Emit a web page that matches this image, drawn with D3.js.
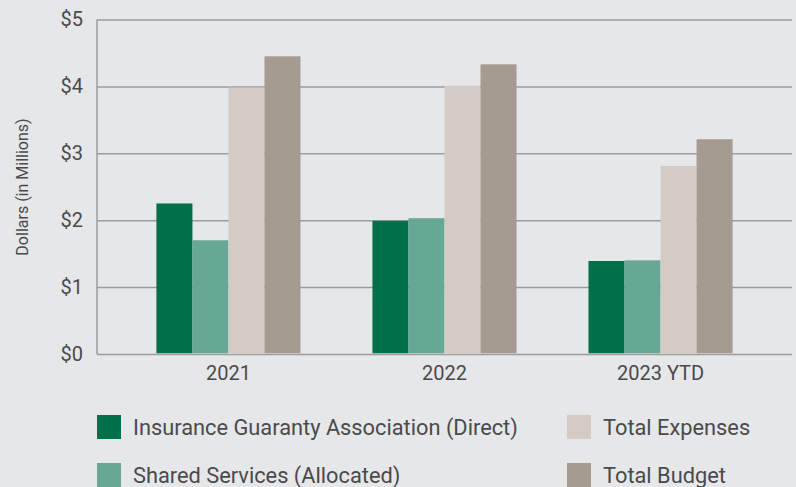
<!DOCTYPE html>
<html>
<head>
<meta charset="utf-8">
<script src="https://cdn.jsdelivr.net/npm/d3@7"></script>
<style>
  html, body { margin: 0; padding: 0; background: #e6e7e9; }
  #chart { width: 796px; height: 487px; }
  text { font-family: Roboto, "Noto Sans", sans-serif; fill: #4a4a4c; }
</style>
</head>
<body>
<div id="chart"></div>
<script>
const categories = ['2021', '2022', '2023 YTD'];
const seriesNames = ['Insurance Guaranty Association (Direct)', 'Shared Services (Allocated)', 'Total Expenses', 'Total Budget'];
const seriesColors = ['#00704a', '#66a893', '#d3cbc4', '#a69b90'];
const guarantyDirect = [2.25, 1.99, 1.39];
const sharedServices = [1.70, 2.03, 1.40];
const totalExpenses = [3.98, 4.01, 2.81];
const totalBudget = [4.45, 4.33, 3.21];
const yTicks = [0, 1, 2, 3, 4, 5];

const seriesValues = [guarantyDirect, sharedServices, totalExpenses, totalBudget];
const rows = categories.map((c, i) => ({
  category: c,
  values: seriesNames.map((s, j) => ({ series: s, value: seriesValues[j][i], color: seriesColors[j] }))
}));

const width = 796, height = 487;
const plot = { left: 97, right: 792, top: 19.5, bottom: 354 };

const svg = d3.select('#chart').append('svg').attr('width', width).attr('height', height);

const x0 = d3.scaleBand().domain(categories).range([plot.left, plot.right])
  .paddingInner(0.333).paddingOuter(0.275);
const x1 = d3.scaleBand().domain(seriesNames).range([0, x0.bandwidth()]);
const y = d3.scaleLinear().domain([0, 5]).range([plot.bottom, plot.top]);

// gridlines + tick labels
const yAxis = svg.append('g').attr('transform', `translate(${plot.left},0)`)
  .call(d3.axisLeft(y).tickValues(yTicks).tickFormat(d => '$' + d)
    .tickSize(-(plot.right - plot.left)).tickPadding(14));
yAxis.select('.domain').remove();
yAxis.selectAll('line').attr('stroke', '#9c9c9e').attr('stroke-width', 1.5);
yAxis.selectAll('text').style('font-size', '20px').attr('fill', '#4a4a4c');

svg.append('line').attr('x1', plot.left).attr('x2', plot.left)
  .attr('y1', plot.top).attr('y2', plot.bottom)
  .attr('stroke', '#9c9c9e').attr('stroke-width', 1.5);

// bars
const groups = svg.selectAll('g.grp').data(rows).enter().append('g')
  .attr('class', 'grp').attr('transform', d => `translate(${x0(d.category)},0)`);
groups.selectAll('rect').data(d => d.values).enter().append('rect')
  .attr('x', d => x1(d.series)).attr('width', x1.bandwidth())
  .attr('y', d => y(d.value)).attr('height', d => y(0) - y(d.value) - 0.75)
  .attr('fill', d => d.color);

// category labels
const xAxis = svg.append('g').attr('transform', `translate(0,${plot.bottom})`)
  .call(d3.axisBottom(x0).tickSize(0).tickPadding(12));
xAxis.select('.domain').remove();
xAxis.selectAll('text').style('font-size', '20px').attr('fill', '#4a4a4c');

// y-axis title
svg.append('text')
  .attr('transform', 'translate(28,187) rotate(-90)')
  .attr('text-anchor', 'middle')
  .style('font-size', '16px')
  .text('Dollars (in Millions)');

// legend
const legendPos = [[97, 415], [97, 463], [567, 415], [567, 463]];
const legend = svg.selectAll('g.leg').data(seriesNames).enter().append('g')
  .attr('class', 'leg').attr('transform', (d, i) => `translate(${legendPos[i][0]},${legendPos[i][1]})`);
legend.append('rect').attr('width', 24).attr('height', 24).attr('fill', (d, i) => seriesColors[i]);
legend.append('text').attr('x', 36).attr('y', 12).attr('dy', '0.36em')
  .style('font-size', '21.8px').text(d => d);
</script>
</body>
</html>
